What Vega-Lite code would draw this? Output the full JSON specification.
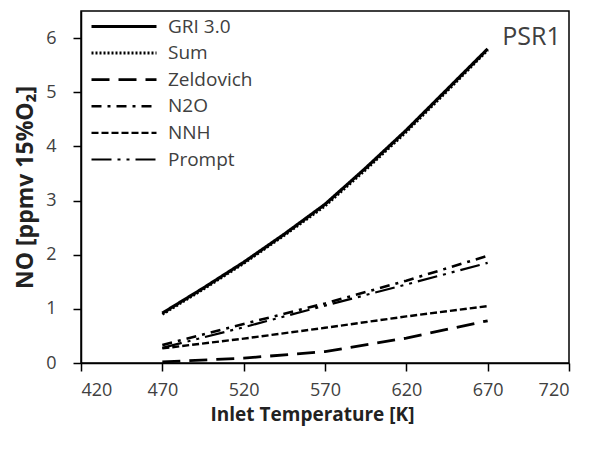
{
  "$schema": "https://vega.github.io/schema/vega-lite/v6.json",
  "width": 488,
  "height": 352,
  "autosize": {"type": "none"},
  "padding": {"left": 81, "top": 11, "right": 20, "bottom": 89},
  "background": "white",
  "config": {
    "font": "Open Sans",
    "view": {"stroke": "black", "strokeWidth": 1.5},
    "axis": {
      "grid": false,
      "domainColor": "black",
      "domainWidth": 1.5,
      "tickColor": "black",
      "tickWidth": 1.5,
      "tickSize": 8,
      "labelFont": "Open Sans",
      "labelFontSize": 18,
      "labelColor": "#404040",
      "titleFont": "Open Sans",
      "titleFontSize": 19,
      "titleFontWeight": "bold",
      "titleColor": "#222222"
    }
  },
  "data": {
    "values": [
      {"T": 470, "NO": 0.92, "series": "GRI 3.0"},
      {"T": 495, "NO": 1.38, "series": "GRI 3.0"},
      {"T": 520, "NO": 1.86, "series": "GRI 3.0"},
      {"T": 545, "NO": 2.38, "series": "GRI 3.0"},
      {"T": 570, "NO": 2.93, "series": "GRI 3.0"},
      {"T": 595, "NO": 3.6, "series": "GRI 3.0"},
      {"T": 620, "NO": 4.3, "series": "GRI 3.0"},
      {"T": 645, "NO": 5.05, "series": "GRI 3.0"},
      {"T": 670, "NO": 5.8, "series": "GRI 3.0"},
      {"T": 470, "NO": 0.9, "series": "Sum"},
      {"T": 495, "NO": 1.36, "series": "Sum"},
      {"T": 520, "NO": 1.84, "series": "Sum"},
      {"T": 545, "NO": 2.36, "series": "Sum"},
      {"T": 570, "NO": 2.9, "series": "Sum"},
      {"T": 595, "NO": 3.57, "series": "Sum"},
      {"T": 620, "NO": 4.27, "series": "Sum"},
      {"T": 645, "NO": 5.02, "series": "Sum"},
      {"T": 670, "NO": 5.78, "series": "Sum"},
      {"T": 470, "NO": 0.02, "series": "Zeldovich"},
      {"T": 520, "NO": 0.09, "series": "Zeldovich"},
      {"T": 570, "NO": 0.21, "series": "Zeldovich"},
      {"T": 620, "NO": 0.46, "series": "Zeldovich"},
      {"T": 670, "NO": 0.78, "series": "Zeldovich"},
      {"T": 470, "NO": 0.33, "series": "N2O"},
      {"T": 520, "NO": 0.72, "series": "N2O"},
      {"T": 570, "NO": 1.1, "series": "N2O"},
      {"T": 620, "NO": 1.52, "series": "N2O"},
      {"T": 670, "NO": 1.98, "series": "N2O"},
      {"T": 470, "NO": 0.27, "series": "NNH"},
      {"T": 520, "NO": 0.45, "series": "NNH"},
      {"T": 570, "NO": 0.65, "series": "NNH"},
      {"T": 620, "NO": 0.86, "series": "NNH"},
      {"T": 670, "NO": 1.05, "series": "NNH"},
      {"T": 470, "NO": 0.28, "series": "Prompt"},
      {"T": 520, "NO": 0.66, "series": "Prompt"},
      {"T": 570, "NO": 1.06, "series": "Prompt"},
      {"T": 620, "NO": 1.45, "series": "Prompt"},
      {"T": 670, "NO": 1.85, "series": "Prompt"}
    ]
  },
  "layer": [
    {
      "mark": {"type": "line", "color": "black"},
      "encoding": {
        "x": {
          "field": "T",
          "type": "quantitative",
          "scale": {"domain": [420, 720], "nice": false, "zero": false},
          "axis": {"values": [420, 470, 520, 570, 620, 670, 720], "title": "Inlet Temperature [K]", "labelPadding": 10, "titlePadding": 6, "titleX": 231}
        },
        "y": {
          "field": "NO",
          "type": "quantitative",
          "scale": {"domain": [0, 6.5], "nice": false},
          "axis": {"values": [0, 1, 2, 3, 4, 5, 6], "title": "NO [ppmv 15%O₂]", "titleFontSize": 23, "labelPadding": 17, "titlePadding": 8}
        },
        "detail": {"field": "series"},
        "strokeDash": {
          "field": "series",
          "type": "nominal",
          "scale": {
            "domain": ["GRI 3.0", "Sum", "Zeldovich", "N2O", "NNH", "Prompt"],
            "range": [[1, 0], [2, 2], [18, 9], [10, 6, 3, 6], [7, 3], [20, 6, 3, 6, 3, 6]]
          },
          "legend": {
            "title": null,
            "orient": "none",
            "legendX": 33.5,
            "legendY": 6,
            "padding": 0,
            "symbolType": "M-6.5,0H6.5",
            "symbolSize": 100,
            "symbolStrokeColor": "black",
            "symbolFillColor": "transparent",
            "symbolStrokeWidth": 2.5,
            "labelFont": "Open Sans",
            "labelFontSize": 19,
            "labelColor": "#404040",
            "labelOffset": 34.5,
            "rowPadding": 6.6
          }
        },
        "strokeWidth": {
          "field": "series",
          "type": "nominal",
          "scale": {
            "domain": ["GRI 3.0", "Sum", "Zeldovich", "N2O", "NNH", "Prompt"],
            "range": [3.2, 2.2, 2.8, 2.6, 2.6, 2.8]
          },
          "legend": null
        }
      }
    },
    {
      "data": {"values": [{"label": "PSR1"}]},
      "mark": {"type": "text", "align": "left", "baseline": "middle", "fontSize": 25, "font": "Open Sans", "color": "#404040"},
      "encoding": {
        "x": {"datum": 679, "type": "quantitative"},
        "y": {"datum": 6.02, "type": "quantitative"},
        "text": {"field": "label"}
      }
    }
  ]
}
